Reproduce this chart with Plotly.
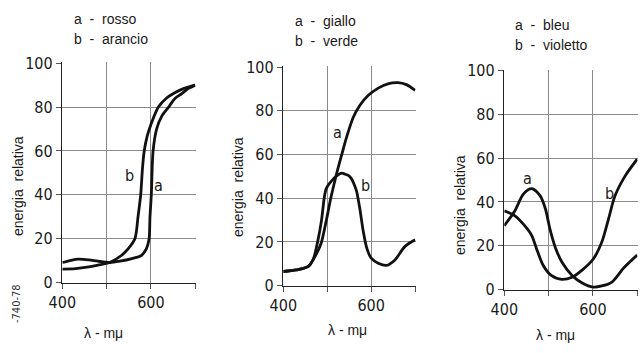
import plotly.graph_objects as go

W, H = 640, 353

# ---------- data ----------
rosso_x = [400, 420, 436, 460, 480, 507, 530, 557, 579, 590, 596, 598, 601, 605, 613, 625, 640, 655, 669, 685, 700]
rosso_y = [9.2, 10.2, 10.7, 10.4, 9.8, 9.2, 9.8, 11, 12.5, 15.5, 20, 30, 40, 60, 70, 76, 80, 84, 86, 88.5, 90]
arancio_x = [400, 430, 460, 480, 507, 534, 549, 564, 571, 577, 581, 585, 592, 600, 617, 635, 654, 675, 700]
arancio_y = [6.2, 6.4, 7.2, 8.0, 9.2, 12.5, 15.5, 20, 30, 40, 52, 60, 67, 72, 80, 84, 86.5, 88.5, 90]

giallo_x = [400, 430, 457, 468, 479, 487, 499, 508, 521, 533, 544, 559, 574, 593, 616, 638, 661, 680, 700]
giallo_y = [6.5, 7.2, 8.8, 12.0, 16, 20, 31, 40, 51, 60, 68, 77, 82.5, 87, 90.4, 92.4, 92.9, 92, 89.4]
verde_x = [400, 430, 457, 468, 478, 487, 493, 497, 502, 510, 520, 533, 541, 548, 555, 562, 567, 574, 582, 590, 600, 616, 635, 654, 677, 700]
verde_y = [6.5, 7.2, 8.8, 12.0, 20, 30, 40, 44, 46, 48, 50, 51.5, 51, 50.5, 49, 46, 43, 35.4, 24.8, 17.2, 12.6, 10.3, 9.3, 11.8, 18, 21]

bleu_x = [400, 424, 443, 462, 481, 493, 503, 515, 530, 553, 575, 601, 620, 643, 670, 700]
bleu_y = [29.2, 36, 43.6, 46.1, 42.8, 36.8, 27.7, 19.4, 12.6, 6.5, 3.2, 1.2, 1.7, 3.5, 10, 15.8]
violetto_x = [400, 424, 446, 462, 473, 488, 506, 530, 553, 575, 601, 620, 635, 650, 673, 700]
violetto_y = [36, 33.7, 29.2, 24.7, 18.6, 11, 6.5, 4.7, 5.7, 8.8, 14, 21.6, 32, 42.8, 51.9, 59.5]

x_ticks = [400, 500, 600, 700]
x_ticktext = ["400", "", "600", ""]
y_ticks = [0, 20, 40, 60, 80, 100]
y_ticktext = ["0", "20", "40", "60", "80", "100"]

legends = [("a  -  rosso", "b  -  arancio"), ("a  -  giallo", "b  -  verde"), ("a  -  bleu", "b  -  violetto")]
series = [(rosso_x, rosso_y, arancio_x, arancio_y),
          (giallo_x, giallo_y, verde_x, verde_y),
          (bleu_x, bleu_y, violetto_x, violetto_y)]
curve_labels = [[("b", 552, 49), ("a", 617, 44.5)],
                [("a", 524, 70), ("b", 586, 45.8)],
                [("a", 452, 50.6), ("b", 637, 43.8)]]

# ---------- layout (pixel boxes, screen coordinates) ----------
boxes = [(62.3, 195.5, 62.3, 282.7), (283.3, 415.5, 66.3, 285.7), (504.3, 637.5, 69.5, 289.7)]
leg_pos = [(72, 19, 39), (293, 21, 41), (513, 25, 45)]
ytitle_pos = [(18, 186), (238, 187), (460, 205)]
xtitle_pos = [(103, 333), (347, 330), (555, 335)]


def px(x):
    return x / W


def py(y):
    return 1 - y / H


NARROW = "Liberation Sans Narrow, DejaVu Sans Condensed, Liberation Sans, Arial, sans-serif"
TICKFONT = dict(family=NARROW, size=16, color="#1a1a1a")
TXTFONT = dict(family="Liberation Sans, Arial, sans-serif", size=14, color="#1a1a1a")

fig = go.Figure()
annotations = []
for i, (sx1, sy1, sx2, sy2) in enumerate(series):
    sfx = "" if i == 0 else str(i + 1)
    for xs, ys in ((sx1, sy1), (sx2, sy2)):
        fig.add_trace(go.Scatter(x=xs, y=ys, mode="lines", xaxis="x" + sfx, yaxis="y" + sfx,
                                 line=dict(color="#111", width=2.8, shape="spline", smoothing=0.8),
                                 showlegend=False, hoverinfo="skip", cliponaxis=False))
    x0, x1, y0, y1 = boxes[i]
    common = dict(showgrid=True, gridcolor="#8a8a8a", gridwidth=1, showline=True, linecolor="#222",
                  linewidth=1.5, ticks="outside", ticklen=5, tickcolor="#555", tickwidth=1,
                  zeroline=False, tickfont=TICKFONT, fixedrange=True, automargin=False)
    fig.update_layout(**{
        "xaxis" + sfx: dict(domain=[px(x0), px(x1)], range=[400, 700.8], anchor="y" + sfx,
                            tickvals=x_ticks, ticktext=x_ticktext, **common),
        "yaxis" + sfx: dict(domain=[py(y1), py(y0)], range=[0, 100.4], anchor="x" + sfx,
                            tickvals=y_ticks, ticktext=y_ticktext, **common),
    })
    lx, ly1, ly2 = leg_pos[i]
    for txt, ly in ((legends[i][0], ly1), (legends[i][1], ly2)):
        annotations.append(dict(text=txt.replace(" ", "\u00a0"), x=px(lx), y=py(ly), xref="paper", yref="paper",
                                xanchor="left", yanchor="middle", showarrow=False, font=TXTFONT))
    tx, ty = ytitle_pos[i]
    annotations.append(dict(text="energia\u00a0\u00a0relativa", x=px(tx), y=py(ty), xref="paper", yref="paper",
                            textangle=-90, xanchor="center", yanchor="middle", showarrow=False, font=TXTFONT))
    xx, xy = xtitle_pos[i]
    annotations.append(dict(text="λ\u00a0-\u00a0mμ", x=px(xx), y=py(xy), xref="paper", yref="paper",
                            xanchor="center", yanchor="middle", showarrow=False, font=TXTFONT))
    for (t, cx, cy) in curve_labels[i]:
        annotations.append(dict(text=t, x=cx, y=cy, xref="x" + sfx, yref="y" + sfx, showarrow=False,
                                font=dict(family=NARROW, size=16, color="#1a1a1a")))

annotations.append(dict(text="-740-78", x=px(8), y=py(325), xref="paper", yref="paper", textangle=-90,
                        showarrow=False, font=dict(family=NARROW, size=11, color="#333")))

fig.update_layout(width=W, height=H, margin=dict(l=0, r=0, t=0, b=0, autoexpand=False),
                  paper_bgcolor="white", plot_bgcolor="white", annotations=annotations)

fig.write_html("out.html", config={"displayModeBar": False, "staticPlot": True},
               post_script="document.body.style.margin='0px';document.body.style.overflow='hidden';")
